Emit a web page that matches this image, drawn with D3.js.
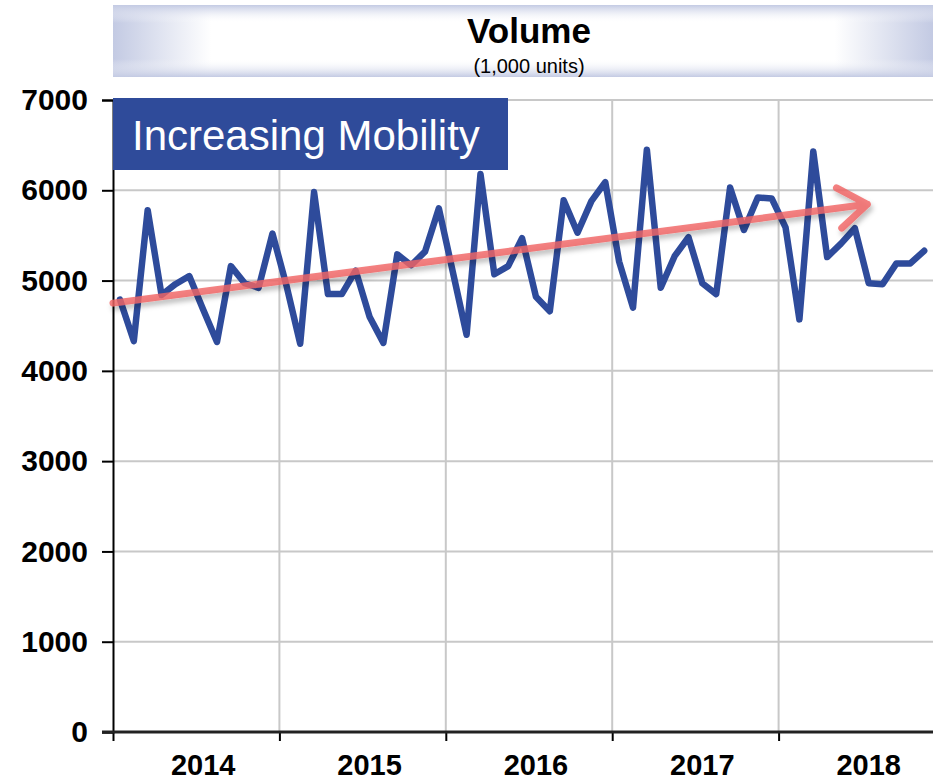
<!DOCTYPE html>
<html>
<head>
<meta charset="utf-8">
<script src="https://cdn.jsdelivr.net/npm/d3@7"></script>
<style>
  html, body { margin: 0; padding: 0; background: #fff; }
  svg { display: block; font-family: "Liberation Sans", Arial, sans-serif; }
</style>
</head>
<body>
<svg id="chart" width="933" height="782"></svg>
<script>
// ---- data ----
const years = ["2014", "2015", "2016", "2017", "2018"];
const volume = [
  4790, 4330, 5780, 4840, 4960, 5050, 4680, 4320, 5160, 4970, 4920, 5520,
  4950, 4300, 5980, 4850, 4850, 5110, 4600, 4310, 5290, 5170, 5320, 5800,
  5100, 4400, 6180, 5070, 5160, 5470, 4820, 4660, 5890, 5530, 5880, 6090,
  5210, 4700, 6450, 4920, 5270, 5480, 4970, 4850, 6030, 5560, 5920, 5910,
  5590, 4570, 6430, 5260, 5410, 5580, 4970, 4960, 5190, 5190, 5330
];
const yTicks = [0, 1000, 2000, 3000, 4000, 5000, 6000, 7000];
// trend arrow: [month index, value]
const trendStart = [-0.5, 4750];
const trendEnd = [53.9, 5845];
const titleText = "Volume";
const subtitleText = "(1,000 units)";
const calloutText = "Increasing Mobility";

// ---- layout ----
const svg = d3.select("#chart");
const pL = 113, pR = 933, pT = 100, pB = 732;

const x = d3.scaleLinear().domain([0, 12]).range([pL, pL + 166.4]);
const xc = i => x(i + 0.5);
const y = d3.scaleLinear().domain([0, 7000]).range([pB, pT]);

const defs = svg.append("defs");
const gh = defs.append("linearGradient").attr("id", "gh").attr("x1", 0).attr("x2", 1).attr("y1", 0).attr("y2", 0);
gh.append("stop").attr("offset", "0%").attr("stop-color", "#c3cae3");
gh.append("stop").attr("offset", "12%").attr("stop-color", "#ffffff");
gh.append("stop").attr("offset", "88%").attr("stop-color", "#ffffff");
gh.append("stop").attr("offset", "100%").attr("stop-color", "#c3cae3");
const gv = defs.append("linearGradient").attr("id", "gv").attr("x1", 0).attr("x2", 0).attr("y1", 0).attr("y2", 1);
gv.append("stop").attr("offset", "0%").attr("stop-color", "#c3cae3").attr("stop-opacity", 1);
gv.append("stop").attr("offset", "25%").attr("stop-color", "#ffffff").attr("stop-opacity", 0);
gv.append("stop").attr("offset", "75%").attr("stop-color", "#ffffff").attr("stop-opacity", 0);
gv.append("stop").attr("offset", "100%").attr("stop-color", "#c3cae3").attr("stop-opacity", 1);
const shadow = defs.append("filter").attr("id", "shadow").attr("x", "-10%").attr("y", "-50%").attr("width", "120%").attr("height", "200%");
shadow.append("feDropShadow").attr("dx", 2).attr("dy", 4).attr("stdDeviation", 2.5).attr("flood-color", "#000").attr("flood-opacity", 0.3);

// title band
svg.append("rect").attr("x", 113).attr("y", 5).attr("width", 820).attr("height", 72).attr("fill", "url(#gh)");
svg.append("rect").attr("x", 113).attr("y", 5).attr("width", 820).attr("height", 72).attr("fill", "url(#gv)");
svg.append("text").attr("x", 529).attr("y", 43).attr("text-anchor", "middle")
  .attr("font-size", 35).attr("font-weight", "bold").attr("fill", "#000").text(titleText);
svg.append("text").attr("x", 529).attr("y", 73).attr("text-anchor", "middle")
  .attr("font-size", 20).attr("fill", "#000").text(subtitleText);

// grid
const grid = svg.append("g");
grid.selectAll("line.h").data(yTicks.filter(d => d > 0)).join("line").attr("class", "h")
  .attr("x1", pL).attr("x2", pR).attr("y1", d => y(d)).attr("y2", d => y(d))
  .attr("stroke", "#c8c8c8").attr("stroke-width", 2);
grid.selectAll("line.v").data(years.slice(1).map((d, i) => (i + 1) * 12)).join("line").attr("class", "v")
  .attr("x1", d => x(d)).attr("x2", d => x(d)).attr("y1", pT).attr("y2", pB)
  .attr("stroke", "#c8c8c8").attr("stroke-width", 2);

// y axis
const yAxis = svg.append("g").attr("transform", `translate(${pL},0)`)
  .call(d3.axisLeft(y).tickValues(yTicks).tickSize(11).tickPadding(14).tickFormat(d3.format("d")));
yAxis.select(".domain").attr("stroke", "#000").attr("stroke-width", 2);
yAxis.selectAll(".tick line").attr("stroke", "#000").attr("stroke-width", 2);
yAxis.selectAll(".tick text").attr("font-size", 30).attr("font-weight", "bold").attr("fill", "#000")
  .attr("font-family", "Liberation Sans, Arial, sans-serif");

// x axis ticks at year boundaries
const xAxis = svg.append("g").attr("transform", `translate(0,${pB})`)
  .call(d3.axisBottom(x).tickValues(years.map((d, i) => i * 12)).tickSize(9).tickFormat(""));
xAxis.select(".domain").remove();
xAxis.selectAll(".tick line").attr("stroke", "#000").attr("stroke-width", 2);
svg.append("line").attr("x1", pL - 11).attr("x2", pR).attr("y1", pB).attr("y2", pB)
  .attr("stroke", "#222").attr("stroke-width", 3);
svg.append("g").selectAll("text").data(years).join("text")
  .attr("x", (d, i) => xc(i * 12 + 6)).attr("y", 775).attr("text-anchor", "middle")
  .attr("font-size", 29).attr("font-weight", "bold").attr("fill", "#000").text(d => d);

// data line
const line = d3.line().x((d, i) => xc(i)).y(d => y(d));
svg.append("path").datum(volume).attr("d", line).attr("fill", "none")
  .attr("stroke", "#2e4b9b").attr("stroke-width", 6.5).attr("stroke-linejoin", "round").attr("stroke-linecap", "round");

// trend arrow
const ax1 = xc(trendStart[0]), ay1 = y(trendStart[1]);
const ax2 = xc(trendEnd[0]), ay2 = y(trendEnd[1]);
const ang = Math.atan2(ay2 - ay1, ax2 - ax1);
const hl = 35, ha = 0.62;
const arrowPath = d3.path();
arrowPath.moveTo(ax1, ay1); arrowPath.lineTo(ax2, ay2);
arrowPath.moveTo(ax2 - hl * Math.cos(ang - ha), ay2 - hl * Math.sin(ang - ha));
arrowPath.lineTo(ax2, ay2);
arrowPath.lineTo(ax2 - hl * Math.cos(ang + ha), ay2 - hl * Math.sin(ang + ha));
svg.append("path").attr("d", arrowPath.toString()).attr("fill", "none")
  .attr("stroke", "#f06464").attr("stroke-opacity", 0.82).attr("stroke-width", 7)
  .attr("stroke-linecap", "round").attr("stroke-linejoin", "round").attr("filter", "url(#shadow)");

// callout box
svg.append("rect").attr("x", 113).attr("y", 98).attr("width", 395).attr("height", 72).attr("fill", "#2f4b9a");
svg.append("text").attr("x", 132).attr("y", 150).attr("font-size", 42).attr("fill", "#fff")
  .text(calloutText);
</script>
</body>
</html>
